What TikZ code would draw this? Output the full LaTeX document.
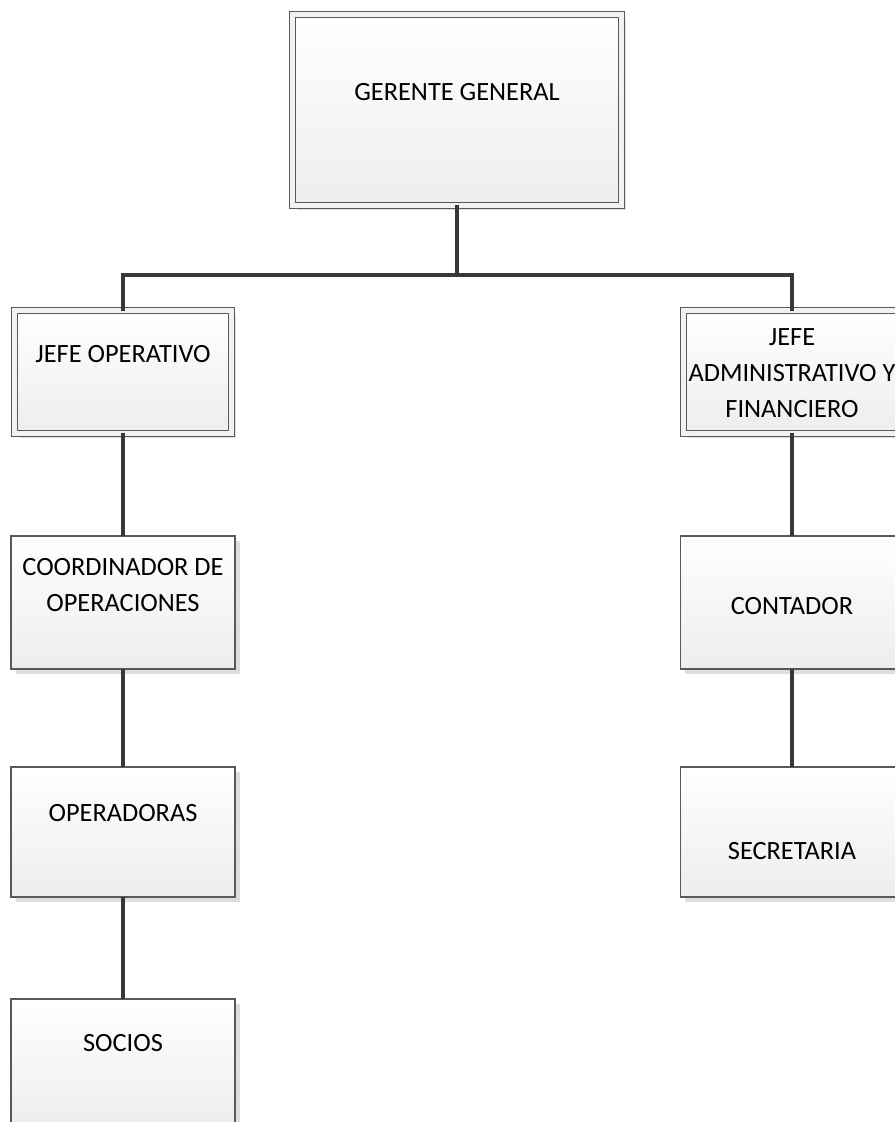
\documentclass[tikz,border=0pt]{standalone}
\usepackage{fontspec}
\setmainfont{Carlito}
\usetikzlibrary{shadows}

\begin{document}
\begin{tikzpicture}[x=0.02cm, y=-0.02cm, line width=2.1pt, draw=black!78]
\tikzstyle{caja}=[rectangle, inner sep=0pt, outer sep=0pt, draw=black!65, line width=0.6pt,
  top color=white, bottom color=black!7,
  drop shadow={shadow xshift=0.1cm, shadow yshift=-0.1cm, fill=black!13, opacity=1}]
\tikzstyle{jefe}=[caja, double=black!5, double distance=0.1cm, line width=0.55pt]
\tikzstyle{txt}=[font=\fontsize{15}{20.4}\selectfont, align=center, text=black]
\useasboundingbox (0,0) rectangle (894,1122);
% cajas
\node[jefe, minimum width=6.58cm, minimum height=3.82cm] (gg) at (457,110)   {};
\node[jefe, minimum width=4.34cm, minimum height=2.46cm] (jo) at (123,372)   {};
\node[jefe, minimum width=4.34cm, minimum height=2.46cm] (ja) at (792,372)   {};
\node[caja, minimum width=4.48cm, minimum height=2.66cm] (co) at (123,602.5) {};
\node[caja, minimum width=4.48cm, minimum height=2.6cm]  (op) at (123,832)   {};
\node[caja, minimum width=4.48cm, minimum height=2.6cm]  (so) at (123,1064)  {};
\node[caja, minimum width=4.48cm, minimum height=2.66cm] (ct) at (792,602.5) {};
\node[caja, minimum width=4.48cm, minimum height=2.6cm]  (se) at (792,832)   {};
% textos
\node[txt] (ggt) at (457,92)  {GERENTE GENERAL};
\node[txt] (jot) at (123,354) {JEFE OPERATIVO};
\node[txt] (jat) at (792,373) {JEFE\\ADMINISTRATIVO Y\\FINANCIERO};
\node[txt] (cot) at (123,585) {COORDINADOR DE\\OPERACIONES};
\node[txt] (opt) at (123,813) {OPERADORAS};
\node[txt] (sot) at (123,1043){SOCIOS};
\node[txt] (ctt) at (792,606) {CONTADOR};
\node[txt] (set) at (792,851) {SECRETARIA};
% conectores
\coordinate (bus) at (457,275);
\draw (gg.south) -- (bus) -| (jo.north);
\draw (bus) -| (ja.north);
\path
(jo) edge (co)
(co) edge (op)
(op) edge (so)
(ja) edge (ct)
(ct) edge (se);
\end{tikzpicture}
\end{document}
